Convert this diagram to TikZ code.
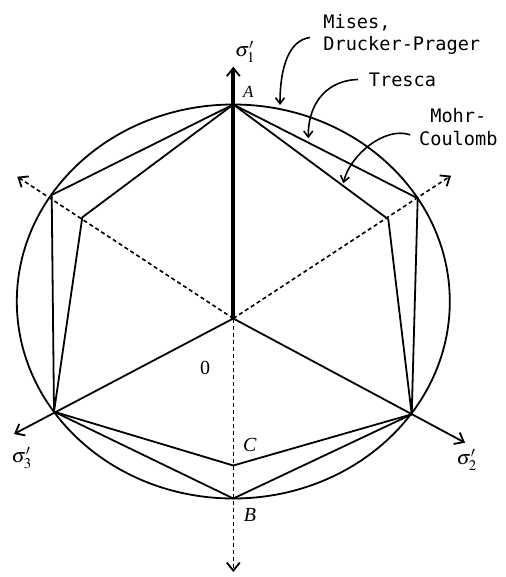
\documentclass[tikz,border=0pt]{standalone}
\usepackage{mathptmx}
\usepackage{fontspec}
\setmainfont{Liberation Serif}
\newfontfamily\monofont{DejaVu Sans Mono}
\usetikzlibrary{arrows.meta}
\begin{document}
\begin{tikzpicture}[x=1pt,y=-1pt,line width=1.8pt,line join=miter,
  axisarrow/.style={-{Straight Barb[length=8pt,width=13pt,line width=1.8pt]}},
  dashaxis/.style={axisarrow,line width=1.6pt,dash pattern=on 4pt off 3pt},
  callout/.style={line width=1.6pt,-{Straight Barb[length=6pt,width=9pt,line width=1.6pt]}},
  lab/.style={inner sep=0pt,font=\fontsize{20}{24}\selectfont},
  mono/.style={inner sep=0pt,font=\monofont\fontsize{18.6}{22.5}\selectfont}]
\useasboundingbox (0,0) rectangle (505,577);
% points
\coordinate (E) at (233.3,301.5);
\coordinate (O) at (233.3,318.5);
\coordinate (A) at (233.3,104.5);
\coordinate (B) at (233.3,498.5);
\coordinate (C) at (233.3,465.5);
\coordinate (UL) at (51.7,195);
\coordinate (UR) at (417.7,198.3);
\coordinate (LL) at (54,411.7);
\coordinate (LR) at (411.7,414.3);
\coordinate (ULm) at (82.3,217.3);
\coordinate (URm) at (388.3,219.3);
\coordinate (t1) at (233.3,66.7);
\coordinate (t2) at (465,442.7);
\coordinate (t3) at (14,434);
\coordinate (d1) at (17.3,176.7);
\coordinate (d2) at (451,175.7);
\coordinate (d3) at (233.3,572);
% circle
\draw (E) ellipse [x radius=216.5pt, y radius=197pt];
% Tresca
\draw (A) -- (UL) -- (LL) -- (B) -- (LR) -- (UR) -- cycle;
% Mohr-Coulomb
\draw (A) -- (ULm) -- (LL) -- (C) -- (LR) -- (URm) -- cycle;
% axes
\draw[axisarrow] (O) -- (t2);
\draw[axisarrow] (O) -- (t3);
\draw[dashaxis] (O) -- (d1);
\draw[dashaxis] (O) -- (d2);
\draw[dashaxis] (O) -- (d3);
\draw[line width=3.8pt] (O) -- (A);
\draw[axisarrow,line width=3.8pt] (A) -- (t1);
% labels
\node[lab] (s1) at (245,51.7) {$\sigma'_1$};
\node[lab] (s2) at (466.7,460) {$\sigma'_2$};
\node[lab] (s3) at (21.7,458.3) {$\sigma'_3$};
\node[inner sep=0pt,font=\fontsize{17}{20}\selectfont] (lA) at (248.3,91.7) {\textit{A}};
\node[lab] (lB) at (250,515) {\textit{B}};
\node[lab] (lC) at (250,445) {\textit{C}};
\node[lab] (l0) at (205,368.3) {0};
% callout texts
\node[mono,align=left,anchor=north west] (mises) at (322.5,13.3) {Mises,\\Drucker-Prager};
\node[mono,anchor=north west] (tresca) at (368,71.7) {Tresca};
\node[mono,align=center,anchor=north] (mohr) at (458.3,107.5) {Mohr-\\Coulomb};
% callout arrows
\coordinate (mt) at (280,105);
\coordinate (tt) at (308.3,138.3);
\coordinate (ct) at (343.3,183.3);
\draw[callout] ([shift={(-12.5,3)}]mises.west) .. controls (290,40) and (280,65) .. (mt);
\draw[callout] ([shift={(-10,0)}]tresca.west) .. controls (330,80) and (308,100) .. (tt);
\draw[callout] ([shift={(-8,8)}]mohr.west) .. controls (385,126) and (350,155) .. (ct);
\end{tikzpicture}
\end{document}
